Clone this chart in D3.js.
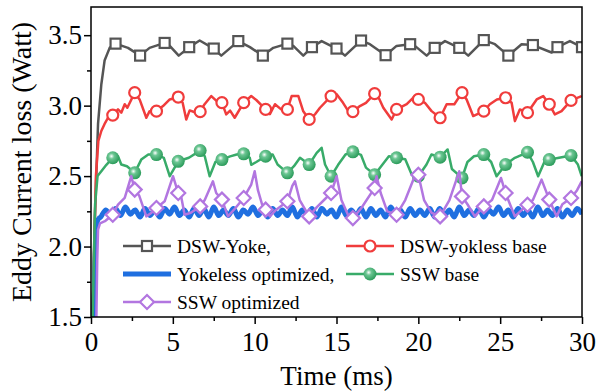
<!DOCTYPE html>
<html>
<head>
<meta charset="utf-8">
<script src="https://cdn.jsdelivr.net/npm/d3@7"></script>
<style>
  body { margin: 0; background: #fff; }
</style>
</head>
<body>
<svg id="chart" width="606" height="391"></svg>
<script>
// each point is [time (ms), loss (W), marker flag]
const dswYoke = [
  [0.09,1.5],[0.22,2.15],[0.43,2.87],[0.63,3.15],[0.83,3.32],[1.14,3.41],[1.5,3.44,1],[2.26,3.41],
  [3,3.355,1],[3.58,3.41],[4.5,3.445,1],[4.81,3.424],[5.36,3.355],[6,3.415,1],[6.64,3.462],
  [7.5,3.405,1],[7.96,3.355],[9,3.458,1],[9.71,3.415],[10.5,3.355,1],[11.14,3.41],[12,3.44,1],
  [12.36,3.424],[12.97,3.355],[13.5,3.415,1],[14.09,3.458],[15,3.405,1],[15.52,3.355],
  [16.5,3.462,1],[17.04,3.436],[18,3.358,1],[18.67,3.424],[19.5,3.436,1],[19.79,3.424],
  [20.51,3.355],[21,3.41,1],[21.63,3.458],[22.5,3.41,1],[23.05,3.355],[24,3.465,1],[24.68,3.436],
  [25.5,3.355,1],[26.31,3.436],[27,3.43,1],[28.14,3.377],[28.5,3.415,1],[29.26,3.458],[30,3.415,1]
];

const dswYoklessBase = [
  [0.1,1.5],[0.3,2.5],[0.45,2.75],[0.63,2.82],[0.83,2.87],[1.04,2.914],[1.33,2.933,1],[1.65,2.973],
  [1.85,2.95],[2.06,3.01],[2.22,2.985],[2.67,3.092,1],[2.97,3.044],[3.38,2.914],[3.58,2.961],
  [4,2.961,1],[4.4,2.997],[4.81,3.044],[5.33,3.061,1],[5.6,3.02],[5.82,2.902],[6.03,2.966],
  [6.3,2.955],[6.67,2.957,1],[6.94,3.01],[7.35,3.068],[7.65,3.035],[8,3.021,1],[8.26,2.938],
  [8.5,2.965],[8.78,2.914],[9.33,3.021,1],[9.79,3.068],[10.1,3.04],[10.67,2.973,1],[10.93,2.94],
  [11.24,3.01],[11.6,2.975],[12,2.973,1],[12.26,3.068],[12.67,3.068],[12.97,2.96],[13.33,2.902,1],
  [13.7,2.94],[13.99,2.985],[14.67,3.068,1],[15.01,3.08],[15.4,3.02],[15.72,2.961],[16,2.957,1],
  [16.43,2.997],[16.8,3.02],[17.33,3.085,1],[17.6,3.05],[17.86,2.985],[18.37,2.902],[18.67,2.973,1],
  [19.29,3.01],[19.79,3.068],[20,3.044,1],[20.4,3.02],[20.81,2.961],[21.33,2.914,1],[21.73,3.01],
  [22.2,3.01],[22.67,3.092,1],[22.95,3.044],[23.35,2.926],[24,2.961,1],[24.37,3.01],[24.8,3.044],
  [25.33,3.056,1],[25.7,3.02],[25.9,2.89],[26.2,2.973],[26.67,2.95,1],[27.23,3.044],[27.63,3.068],
  [28,3.01,1],[28.34,2.938],[28.75,2.961],[29.33,3.037,1],[29.98,3.068]
];

const yokelessOpt = [
  [0.18,1.5],[0.28,2.0],[0.36,2.16],[0.48,2.2],
  [0.6,2.21],[0.9,2.26],[1.2,2.22],[1.5,2.27],[1.8,2.22],[2.1,2.28],[2.4,2.23],[2.7,2.26],[3.0,2.21],
  [3.3,2.27],[3.6,2.22],[3.9,2.26],[4.2,2.21],[4.5,2.27],[4.8,2.23],[5.1,2.28],[5.4,2.22],[5.7,2.26],
  [6.0,2.21],[6.3,2.27],[6.6,2.22],[6.9,2.27],[7.2,2.21],[7.5,2.28],[7.8,2.22],[8.1,2.26],[8.4,2.22],
  [8.7,2.27],[9.0,2.21],[9.3,2.26],[9.6,2.23],[9.9,2.28],[10.2,2.22],[10.5,2.26],[10.8,2.21],
  [11.1,2.27],[11.4,2.22],[11.7,2.26],[12.0,2.22],[12.3,2.28],[12.6,2.21],[12.9,2.26],[13.2,2.22],
  [13.5,2.27],[13.8,2.21],[14.1,2.27],[14.4,2.23],[14.7,2.26],[15.0,2.21],[15.3,2.28],[15.6,2.22],
  [15.9,2.26],[16.2,2.22],[16.5,2.27],[16.8,2.21],[17.1,2.27],[17.4,2.22],[17.7,2.26],[18.0,2.21],
  [18.3,2.28],[18.6,2.23],[18.9,2.26],[19.2,2.21],[19.5,2.27],[19.8,2.22],[20.1,2.26],[20.4,2.22],
  [20.7,2.27],[21.0,2.21],[21.3,2.27],[21.6,2.22],[21.9,2.26],[22.2,2.21],[22.5,2.28],[22.8,2.22],
  [23.1,2.26],[23.4,2.22],[23.7,2.27],[24.0,2.21],[24.3,2.26],[24.6,2.23],[24.9,2.28],[25.2,2.22],
  [25.5,2.26],[25.8,2.21],[26.1,2.27],[26.4,2.22],[26.7,2.26],[27.0,2.21],[27.3,2.28],[27.6,2.22],
  [27.9,2.26],[28.2,2.22],[28.5,2.27],[28.8,2.21],[29.1,2.26],[29.4,2.22],[29.7,2.27],[30.0,2.23]
];

const sswBase = [
  [0.1,1.5],[0.25,2.3],[0.4,2.5],[0.63,2.534],[0.94,2.58],[1.33,2.63,1],[1.65,2.641],[1.85,2.582],
  [2.2,2.57],[2.67,2.523,1],[3.07,2.617],[3.5,2.653],[4,2.653,1],[4.45,2.63],[4.81,2.499],
  [5.33,2.605,1],[5.98,2.63],[6.67,2.681,1],[6.95,2.641],[7.25,2.499],[7.6,2.6],[8,2.617,1],
  [8.5,2.64],[8.9,2.653],[9.33,2.658,1],[9.7,2.63],[9.79,2.58],[10.1,2.6],[10.67,2.641,1],
  [11.1,2.653],[11.4,2.582],[12,2.523,1],[12.4,2.57],[12.77,2.63],[13.33,2.582,1],[13.79,2.665],
  [14.09,2.701],[14.3,2.582],[14.67,2.499,1],[15.1,2.58],[15.55,2.653],[16,2.672,1],[16.5,2.65],
  [16.8,2.56],[17.33,2.51,1],[17.8,2.58],[18.2,2.641],[18.67,2.63,1],[19.2,2.62],[19.6,2.51],
  [20,2.499,1],[20.5,2.582],[20.8,2.653],[21.33,2.634,1],[21.79,2.689],[22.05,2.55],[22.67,2.487,1],
  [23.0,2.6],[23.4,2.641],[24,2.653,1],[24.45,2.6],[24.78,2.499],[25.33,2.582,1],[25.9,2.63],
  [26.67,2.669,1],[27.0,2.6],[27.32,2.499],[27.7,2.6],[28,2.617,1],[28.6,2.63],[29.33,2.646,1],
  [29.75,2.582],[29.98,2.499]
];

const sswOpt = [
  [0.33,1.5],[0.38,1.9],[0.43,2.12],[0.55,2.165],[0.85,2.18],[1.33,2.226,1],[1.65,2.297],[2.06,2.345],
  [2.46,2.5],[2.67,2.404,1],[2.95,2.36],[3.38,2.214],[3.7,2.24],[4,2.274,1],[4.5,2.321],[5.01,2.499],
  [5.33,2.38,1],[5.45,2.39],[5.72,2.226],[6.1,2.24],[6.67,2.285,1],[6.95,2.33],[7.45,2.463],
  [7.65,2.38],[8,2.333,1],[8.37,2.214],[8.8,2.27],[9.33,2.345,1],[9.79,2.44],[10.0,2.534],[10.2,2.4],
  [10.45,2.3],[10.67,2.262,1],[10.93,2.214],[11.3,2.26],[12,2.321,1],[12.3,2.43],[12.46,2.463],
  [12.75,2.33],[13.33,2.214,1],[13.8,2.28],[14.67,2.38,1],[15.01,2.499],[15.3,2.33],[15.7,2.226],
  [16,2.202,1],[16.5,2.27],[17.33,2.416,1],[17.45,2.499],[17.7,2.38],[18.1,2.25],[18.67,2.226,1],
  [19.2,2.33],[19.9,2.534],[20,2.51,1],[20.35,2.33],[20.8,2.24],[21.33,2.214,1],[21.9,2.33],
  [22.5,2.534],[22.67,2.356,1],[23.0,2.3],[23.45,2.214],[24,2.285,1],[24.5,2.33],[25.05,2.487],
  [25.33,2.38,1],[25.6,2.3],[25.9,2.214],[26.67,2.297,1],[27.0,2.33],[27.53,2.475],[28,2.333,1],
  [28.45,2.214],[28.8,2.3],[29.33,2.345,1],[29.7,2.4],[29.98,2.463]
];

const xTicks = [0, 5, 10, 15, 20, 25, 30];
const xMinorTicks = [2.5, 7.5, 12.5, 17.5, 22.5, 27.5];
const yTicks = [1.5, 2.0, 2.5, 3.0, 3.5];
const yMinorTicks = [1.75, 2.25, 2.75, 3.25];

const series = [
  { name: "DSW-Yoke,", data: dswYoke, color: "#555555", width: 2.5, symbol: "square" },
  { name: "DSW-yokless base", data: dswYoklessBase, color: "#f03c3c", width: 2.5, symbol: "circle" },
  { name: "Yokeless optimized,", data: yokelessOpt, color: "#1f6fe0", width: 5, symbol: "none" },
  { name: "SSW base", data: sswBase, color: "#38ab69", width: 2.5, symbol: "ball" },
  { name: "SSW optimized", data: sswOpt, color: "#b276e0", width: 2.5, symbol: "diamond" }
];

const serif = '"Liberation Serif", serif';

var svg = d3.select("#chart");
var margin = { top: 7, right: 24, bottom: 74, left: 91 };
var width = 606 - margin.left - margin.right;
var height = 391 - margin.top - margin.bottom;

var x = d3.scaleLinear().domain([0, 30]).range([0, width]);
var y = d3.scaleLinear().domain([1.5, 3.7]).range([height, 0]);

var defs = svg.append("defs");
defs.append("clipPath").attr("id", "plot-clip")
  .append("rect").attr("width", width).attr("height", height);

var grad = defs.append("radialGradient").attr("id", "ball-grad")
  .attr("cx", "40%").attr("cy", "38%").attr("r", "60%");
grad.append("stop").attr("offset", "0%").attr("stop-color", "#ffffff");
grad.append("stop").attr("offset", "35%").attr("stop-color", "#6cc693");
grad.append("stop").attr("offset", "100%").attr("stop-color", "#2f9e5e");

var g = svg.append("g").attr("transform", `translate(${margin.left},${margin.top})`);

// axes
var xAxis = g.append("g").attr("transform", `translate(0,${height})`)
  .call(d3.axisBottom(x).tickValues(xTicks).tickSize(7).tickPadding(8).tickFormat(d3.format("d")));
var xMinor = g.append("g").attr("transform", `translate(0,${height})`)
  .call(d3.axisBottom(x).tickValues(xMinorTicks).tickSize(4).tickFormat(""));
var yAxis = g.append("g")
  .call(d3.axisLeft(y).tickValues(yTicks).tickSize(7).tickPadding(2).tickFormat(d3.format(".1f")));
var yMinor = g.append("g")
  .call(d3.axisLeft(y).tickValues(yMinorTicks).tickSize(4).tickFormat(""));

[xAxis, xMinor, yAxis, yMinor].forEach(a => {
  a.attr("font-family", serif).attr("font-size", 27);
  a.select(".domain").remove();
  a.selectAll("line").attr("stroke", "#000").attr("stroke-width", 1.5);
  a.selectAll("text").attr("fill", "#000");
});

// lines
var plot = g.append("g").attr("clip-path", "url(#plot-clip)");
var line = d3.line().x(d => x(d[0])).y(d => y(d[1]));

function drawSymbol(sel, s, cx, cy, r) {
  if (s.symbol === "square") {
    sel.append("rect").attr("x", cx - r).attr("y", cy - r).attr("width", 2 * r).attr("height", 2 * r)
      .attr("fill", "#fff").attr("stroke", s.color).attr("stroke-width", 2.2);
  } else if (s.symbol === "circle") {
    sel.append("circle").attr("cx", cx).attr("cy", cy).attr("r", r)
      .attr("fill", "#fff").attr("stroke", s.color).attr("stroke-width", 2.2);
  } else if (s.symbol === "ball") {
    sel.append("circle").attr("cx", cx).attr("cy", cy).attr("r", r)
      .attr("fill", "url(#ball-grad)");
  } else if (s.symbol === "diamond") {
    sel.append("path")
      .attr("d", `M${cx},${cy - r}L${cx + r},${cy}L${cx},${cy + r}L${cx - r},${cy}Z`)
      .attr("fill", "#fff").attr("stroke", s.color).attr("stroke-width", 2.2);
  }
}

var symSize = { square: 5, circle: 5.5, ball: 6.5, diamond: 7 };

series.forEach(s => {
  plot.append("path").datum(s.data)
    .attr("fill", "none").attr("stroke", s.color).attr("stroke-width", s.width)
    .attr("stroke-linejoin", "round")
    .attr("d", s.symbol === "none" ? line.curve(d3.curveCardinal)(s.data) : line.curve(d3.curveLinear)(s.data));
  var mg = plot.append("g");
  s.data.filter(d => d[2]).forEach(d => drawSymbol(mg, s, x(d[0]), y(d[1]), symSize[s.symbol]));
});

// frame
g.append("rect").attr("width", width).attr("height", height)
  .attr("fill", "none").attr("stroke", "#000").attr("stroke-width", 1.5);

// legend
var legendPos = [
  [123, 246], [346, 246],
  [123, 274], [346, 274],
  [123, 302]
];
series.forEach((s, i) => {
  var lx = legendPos[i][0], ly = legendPos[i][1];
  var lg = svg.append("g");
  lg.append("line").attr("x1", lx).attr("x2", lx + 48).attr("y1", ly).attr("y2", ly)
    .attr("stroke", s.color).attr("stroke-width", s.width);
  drawSymbol(lg, s, lx + 24, ly, symSize[s.symbol]);
  lg.append("text").attr("x", lx + 54).attr("y", ly + 6.5)
    .attr("font-family", serif).attr("font-size", 19.5).text(s.name);
});

// axis titles
svg.append("text").attr("x", margin.left + width / 2).attr("y", 385)
  .attr("font-family", serif).attr("font-size", 27)
  .attr("text-anchor", "middle").text("Time (ms)");
svg.append("text")
  .attr("transform", `translate(31,${margin.top + height / 2}) rotate(-90)`)
  .attr("font-family", serif).attr("font-size", 28)
  .attr("text-anchor", "middle").text("Eddy Current loss (Watt)");
</script>
</body>
</html>
